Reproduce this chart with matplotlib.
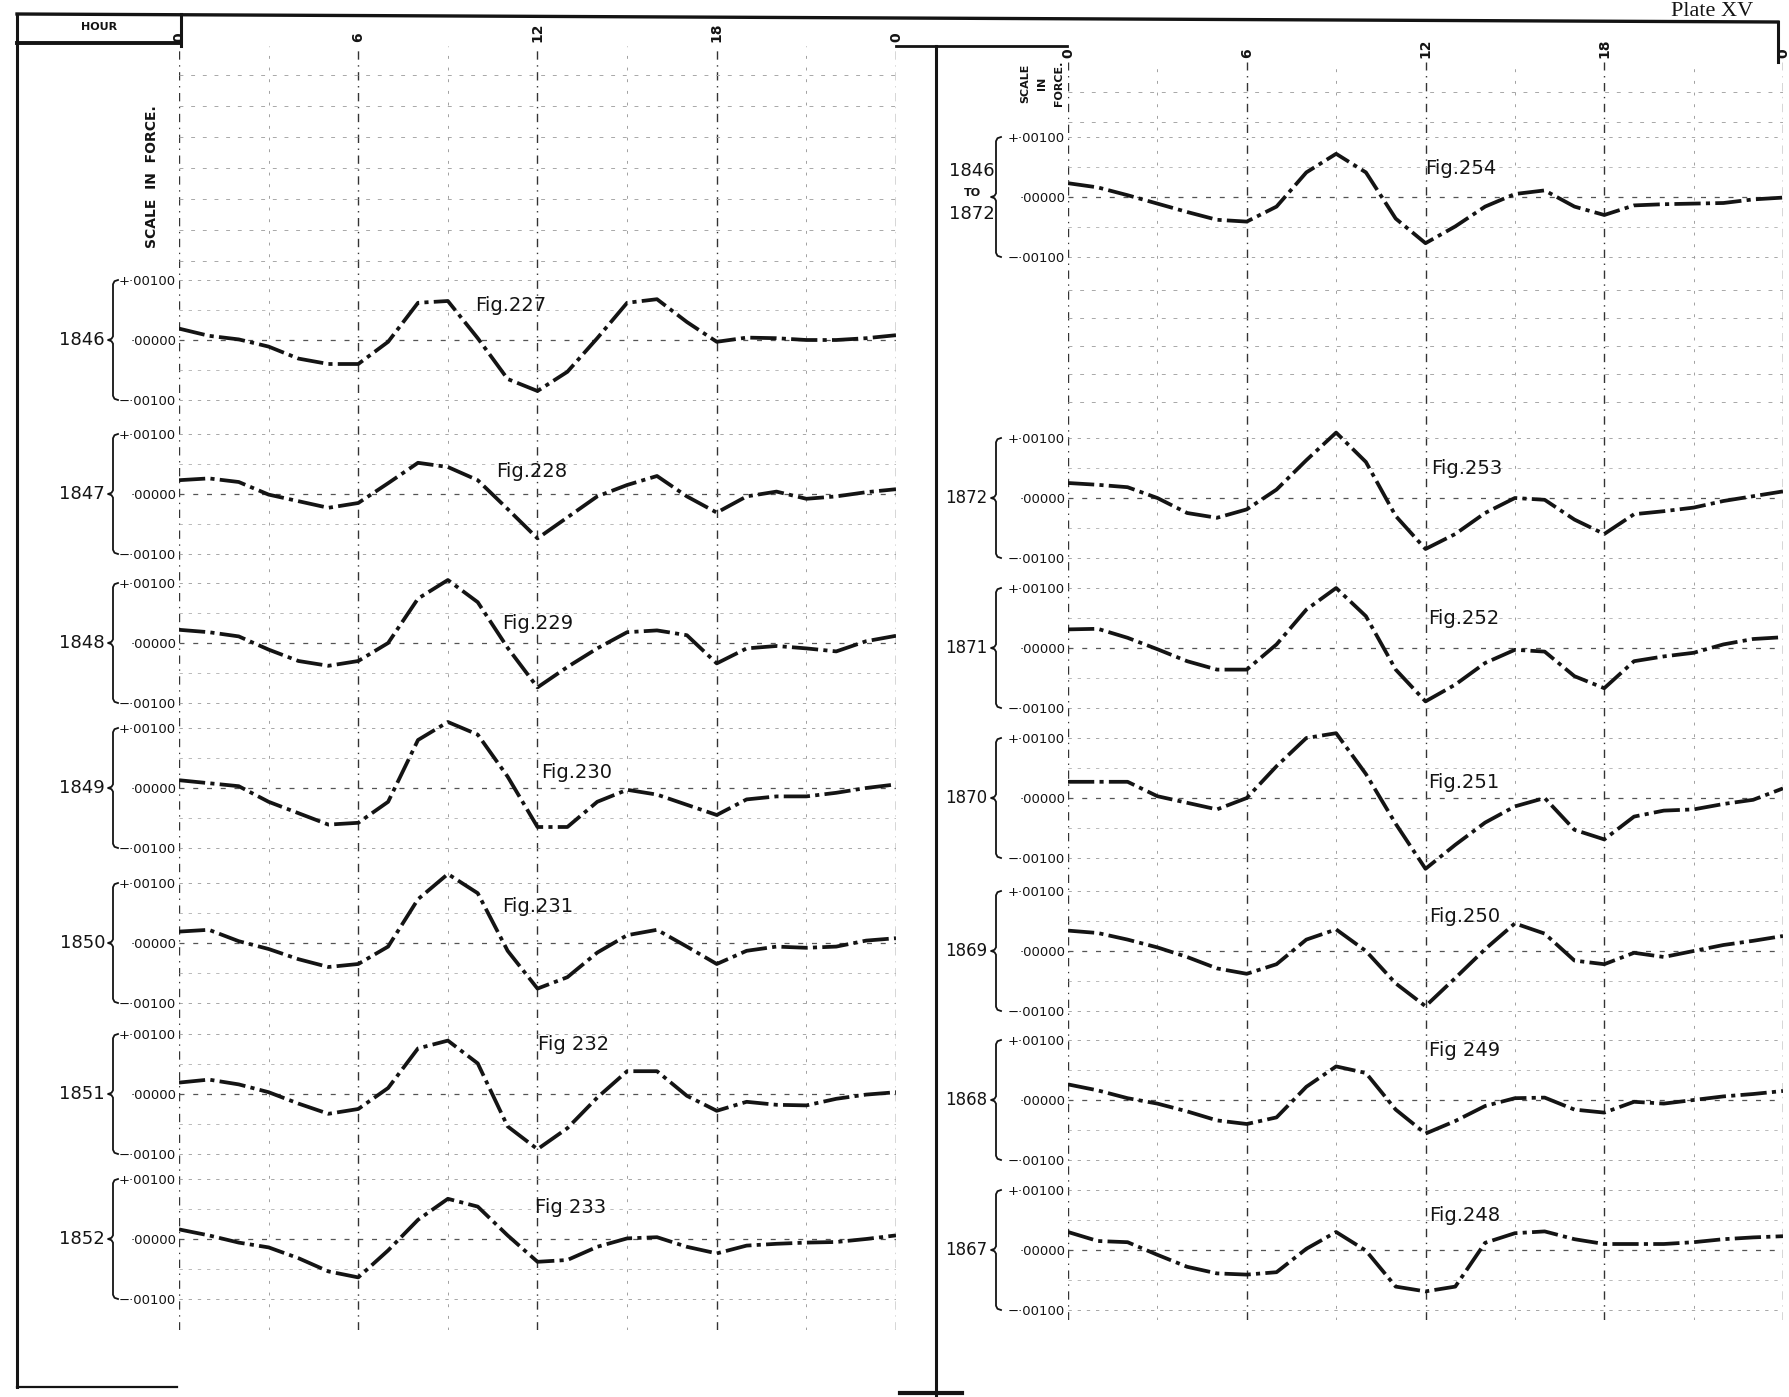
import numpy as np
import matplotlib.pyplot as plt
from matplotlib.transforms import blended_transform_factory as blend

# hourly values of the curves, in units of 0.00001 of force
hours = np.arange(25)
hour_ticks = [0, 6, 12, 18, 24]
hour_labels = ['0', '6', '12', '18', '0']

left_years = ['1846', '1847', '1848', '1849', '1850', '1851', '1852']
left_figs = ['Fig.227', 'Fig.228', 'Fig.229', 'Fig.230', 'Fig.231', 'Fig 232', 'Fig 233']
v1846 = [19, 7, 1, -11, -31, -40, -40, -3, 62, 65, 3, -65, -85, -53, 3, 62, 68, 30, -3, 4, 3, 0, 0, 3, 8]
v1847 = [23, 26, 20, -1, -12, -23, -15, 18, 52, 45, 23, -25, -74, -39, -4, 15, 30, -4, -31, -4, 4, -8, -4, 3, 8]
v1848 = [22, 18, 11, -11, -30, -38, -30, 0, 74, 105, 68, -8, -74, -40, -9, 18, 21, 13, -34, -9, -5, -9, -14, 3, 12]
v1849 = [13, 8, 3, -23, -42, -61, -58, -23, 80, 110, 89, 19, -65, -65, -23, -3, -11, -28, -45, -19, -14, -14, -8, 0, 6]
v1850 = [19, 22, 3, -10, -27, -40, -35, -6, 73, 115, 83, -13, -76, -57, -16, 13, 22, -6, -35, -13, -6, -8, -6, 4, 8]
v1851 = [19, 24, 16, 3, -16, -33, -25, 10, 76, 89, 51, -54, -92, -57, -6, 38, 38, -3, -28, -13, -18, -19, -8, -1, 3]
v1852 = [16, 6, -6, -14, -32, -54, -64, -19, 32, 67, 54, 6, -38, -35, -13, 1, 3, -13, -24, -11, -8, -6, -5, 0, 6]
left_series = [v1846, v1847, v1848, v1849, v1850, v1851, v1852]

right_years = ['1846 TO 1872', '1872', '1871', '1870', '1869', '1868', '1867']
right_figs = ['Fig.254', 'Fig.253', 'Fig.252', 'Fig.251', 'Fig.250', 'Fig 249', 'Fig.248']
v1846_72 = [23, 16, 3, -11, -25, -38, -41, -16, 41, 72, 41, -36, -77, -49, -16, 5, 11, -16, -30, -14, -12, -11, -10, -4, -1]
v1872 = [25, 22, 18, 0, -25, -33, -19, 14, 63, 109, 60, -30, -85, -60, -25, 0, -3, -36, -60, -27, -22, -16, -5, 3, 11]
v1871 = [31, 32, 17, -2, -22, -36, -36, 6, 64, 100, 53, -36, -89, -61, -25, -3, -6, -47, -67, -22, -14, -8, 6, 15, 18]
v1870 = [27, 27, 27, 3, -8, -19, 0, 53, 100, 108, 40, -43, -118, -78, -41, -14, 0, -53, -69, -31, -21, -19, -10, -3, 16]
v1869 = [34, 30, 19, 6, -10, -29, -38, -22, 19, 36, 0, -54, -92, -45, 3, 46, 29, -16, -22, -3, -10, 0, 10, 17, 25]
v1868 = [26, 16, 3, -6, -19, -34, -40, -29, 22, 56, 45, -16, -56, -35, -10, 3, 4, -16, -21, -3, -6, 0, 6, 10, 15]
v1867 = [30, 15, 13, -8, -28, -39, -41, -37, 2, 30, -1, -61, -69, -61, 12, 28, 31, 18, 10, 10, 10, 13, 18, 21, 23]
right_series = [v1846_72, v1872, v1871, v1870, v1869, v1868, v1867]

scale_labels = ['+·00100', '·00000', '−·00100']

# layout (pixels of the 1790x1397 plate)
W, H = 1790, 1397
left_zero = [340, 494, 643, 788, 943, 1094, 1239]
right_zero = [197, 498, 648, 798, 951, 1100, 1250]
left_figpos = [(11.1, 57), (11.8, 38), (12.0, 33), (13.3, 25), (12.0, 60), (13.2, 82), (13.1, 52)]
right_figpos = [(13.2, 48), (13.4, 50), (13.3, 50), (13.3, 25), (13.3, 57), (13.3, 82), (13.3, 57)]

INK = '#141414'

fig = plt.figure(figsize=(W / 100, H / 100), dpi=100)
fig.patch.set_facecolor('white')


def box(x0, x1, ytop, ybot):
    return [x0 / W, 1 - ybot / H, (x1 - x0) / W, (ybot - ytop) / H]


# frame of the plate
ov = fig.add_axes([0, 0, 1, 1])
ov.set_xlim(0, W)
ov.set_ylim(H, 0)
ov.axis('off')
ov.plot([17, 1778], [14, 22], color=INK, lw=2.4)
ov.plot([1778, 1778], [22, 62], color=INK, lw=2.2)
ov.plot([17, 17], [14, 1387], color=INK, lw=2.2)
ov.plot([17, 181], [43, 43], color=INK, lw=2.8)
ov.plot([181, 181], [14, 46], color=INK, lw=2.2)
ov.plot([17, 177], [1387, 1387], color=INK, lw=1.6)
ov.plot([936, 936], [46, 1395], color=INK, lw=2.2)
ov.plot([896, 1067], [46, 46], color=INK, lw=2.0)
ov.plot([900, 962], [1393, 1393], color=INK, lw=3)
ov.text(99, 27, 'HOUR', ha='center', va='center', fontsize=8, fontweight='bold', color=INK)
ov.text(152, 177, 'SCALE  IN  FORCE.', rotation=90, ha='center', va='center',
        fontsize=10, fontweight='bold', color=INK)
for xx, word in zip([1025, 1042, 1059], ['SCALE', 'IN', 'FORCE.']):
    ov.text(xx, 83, word, rotation=90, ha='center', va='center', fontsize=8,
            fontweight='bold', color=INK)
ov.text(1712, 11, 'Plate XV', ha='center', va='center', fontsize=16,
        family=['Liberation Serif', 'DejaVu Serif'], color=INK)
ov.text(972, 171, '1846', ha='center', va='center', fontsize=13, color=INK)
ov.text(972, 193, 'TO', ha='center', va='center', fontsize=8, fontweight='bold', color=INK)
ov.text(972, 214, '1872', ha='center', va='center', fontsize=13, color=INK)


def background(x0, x1, ytop, ybot, hlines):
    bg = fig.add_axes(box(x0, x1, ytop, ybot))
    bg.set_facecolor('none')
    bg.set_xlim(0, 24)
    bg.set_ylim(ybot, ytop)
    for s in bg.spines.values():
        s.set_visible(False)
    bg.set_yticks([])
    bg.xaxis.tick_top()
    bg.set_xticks(hour_ticks, hour_labels, rotation=90, fontsize=10, fontweight='bold', color=INK)
    bg.tick_params(axis='x', length=0, pad=3)
    for h in range(0, 25, 3):
        if h % 6 == 0:
            bg.axvline(h, color='#333333', lw=1.0, ls=(0, (6, 4, 1, 4)))
        else:
            bg.axvline(h, color='#a0a0a0', lw=0.7, ls=(0, (3, 9)))
    for y in hlines:
        bg.axhline(y, color='#a8a8a8', lw=0.7, ls=(0, (4, 8)))
    return bg


background(179, 896, 46, 1330, np.arange(75, 265, 31))
background(1068, 1783, 62, 1320, list(np.arange(92, 125, 30)) + list(np.arange(290, 420, 28)))


def curve_axes(x0, x1, y0, vals, year, figlabel, figpos, year_off, brace_off, stacked, ysize):
    px = 0.6
    ax = fig.add_axes(box(x0, x1, y0 - 130 * px, y0 + 130 * px))
    ax.set_facecolor('none')
    ax.set_xlim(0, 24)
    ax.set_ylim(-130, 130)
    for s in ax.spines.values():
        s.set_visible(False)
    ax.set_xticks([])
    ax.set_yticks([100, 0, -100], scale_labels, fontsize=9.5, color=INK)
    ax.tick_params(axis='y', length=0, pad=2)
    for yy, c, w in [(0, '#555555', 0.9), (50, '#b0b0b0', 0.6), (-50, '#b0b0b0', 0.6),
                     (100, '#999999', 0.6), (-100, '#999999', 0.6)]:
        ax.axhline(yy, color=c, lw=w, ls=(0, (4, 7)), zorder=1)
    ax.plot(hours, vals, color=INK, lw=2.7, ls=(0, (7, 1.4, 1.1, 1.4)),
            dash_capstyle='butt', zorder=3)
    ax.text(figpos[0], figpos[1], figlabel, ha='center', va='center', fontsize=14,
            color=INK, zorder=4)
    wpx = x1 - x0
    tr = blend(ax.transAxes, ax.transData)
    bx = brace_off / wpx
    hk = 5 / wpx
    tip = 5 / wpx
    bxs = [bx + hk, bx + hk * 0.3, bx, bx, bx - tip * 0.3, bx - tip, bx - tip * 0.3, bx, bx, bx + hk * 0.3, bx + hk]
    bys = [100, 98, 93, 6, 2, 0, -2, -6, -93, -98, -100]
    ax.plot(bxs, bys, color=INK, lw=1.3, transform=tr, clip_on=False)
    if not stacked:
        ax.text(year_off / wpx, 0, year, transform=tr, ha='right', va='center',
                fontsize=ysize, color=INK)
    return ax


for vals, year, fl, fp, y0 in zip(left_series, left_years, left_figs, left_figpos, left_zero):
    curve_axes(179, 896, y0, vals, year, fl, fp, -74, -66, False, 13)

for i, (vals, year, fl, fp, y0) in enumerate(zip(right_series, right_years, right_figs, right_figpos, right_zero)):
    curve_axes(1068, 1783, y0, vals, year, fl, fp, -81, -72, i == 0, 12)

fig.savefig('out.png', dpi=100, facecolor='white')
